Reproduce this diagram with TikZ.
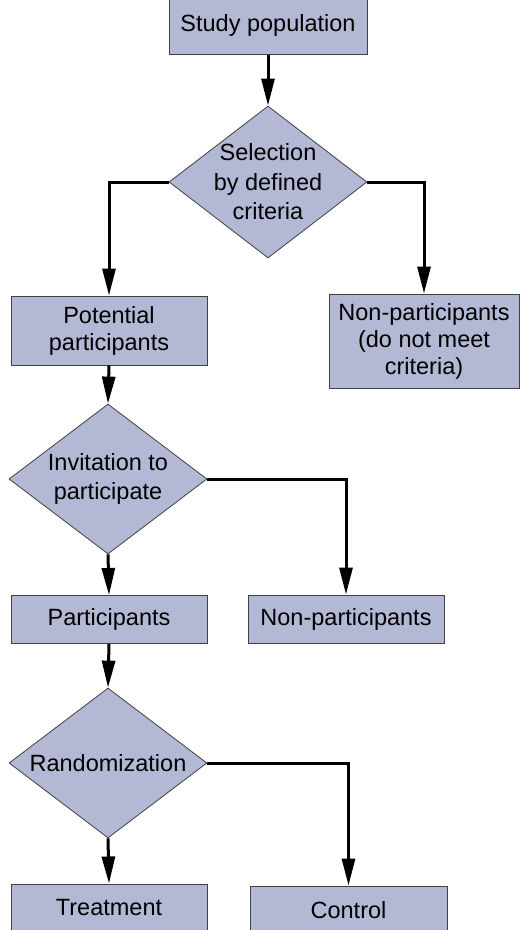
\documentclass[tikz,border=0pt]{standalone}
\usepackage{fontspec}
\setmainfont{Liberation Sans}
\usepackage{xcolor}
\usetikzlibrary{positioning,shapes.geometric,arrows.meta}
\definecolor{boxfill}{RGB}{179,184,212}
\definecolor{boxline}{RGB}{64,64,64}
\tikzset{
  stepbox/.style={draw=boxline, fill=boxfill, line width=1pt, minimum width=196pt,
    minimum height=48pt, inner sep=0pt, align=center,
    font=\fontsize{23.5}{27}\selectfont},
  decision/.style={diamond, draw=boxline, fill=boxfill, line width=0.8pt, aspect=1.3,
    minimum width=198pt, minimum height=152pt, inner sep=-10pt, align=center,
    font=\fontsize{23.5}{29.5}\selectfont},
  flow/.style={line width=3pt, -{Triangle[length=27pt,width=13pt]}}
}

\begin{document}
\begin{tikzpicture}[x=1pt, y=-1pt]
  \useasboundingbox (0,0) rectangle (520,930);
  \clip (0,0) rectangle (520,930);

  % Selection step
  \node[stepbox, minimum width=198pt, minimum height=58pt] (study) at (268,25) {Study population};
  \node[decision] (select) at (268,182) {Selection\\by defined\\criteria};
  \node[stepbox, minimum height=69pt] (potential) at (109,330.5) {Potential\\participants};
  \node[stepbox, minimum width=190pt, minimum height=94pt] (nomeet) at (424,341) {Non-participants\\(do not meet\\criteria)};

  % Invitation step
  \node[decision, minimum height=150pt] (invite) at (108,479) {Invitation to\\participate};
  \node[stepbox] (part) at (109,619.5) {Participants};
  \node[stepbox] (nonpart) at (346,619) {Non-participants};

  % Randomization step
  \node[decision, minimum height=150pt] (random) at (108,763) {Randomization};
  \node[stepbox] (treat) at (109,908) {Treatment};
  \node[stepbox, minimum width=197pt] (control) at (348.5,910) {Control};

  % Connectors
  \draw[flow] (study.south) -- (select.north);
  \draw[flow] (select.west) -| (potential.north);
  \draw[flow] (select.east) -| (nomeet.north);
  \draw[flow] (potential.south) -- (invite.north);
  \draw[flow] (invite.south) -- (part.north);
  \draw[flow] (invite.east) -| (nonpart.north);
  \draw[flow] (part.south) -- (random.north);
  \draw[flow] (random.south) -- (treat.north);
  \draw[flow] (random.east) -| (control.north);
\end{tikzpicture}
\end{document}
